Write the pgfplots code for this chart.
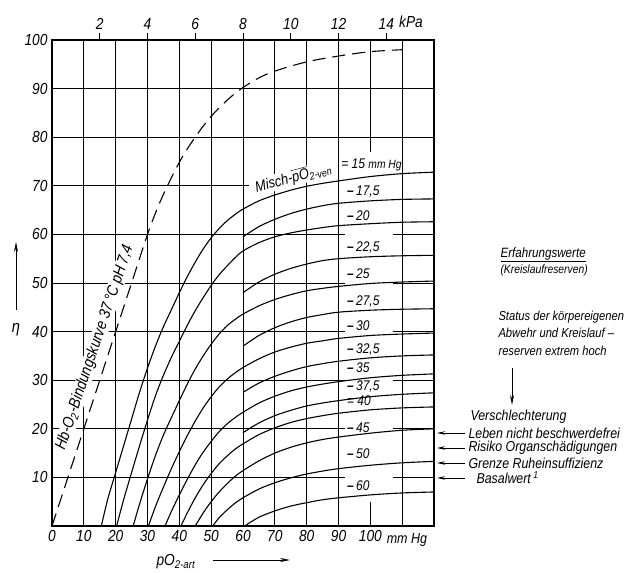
\documentclass[border=0pt]{standalone}
\usepackage{fontspec}
\setmainfont{Liberation Sans}[FakeStretch=0.86]
\usepackage{pgfplots}
\pgfplotsset{compat=1.18}
\usetikzlibrary{arrows.meta}
\newcommand{\lbl}{\fontsize{14}{16}\selectfont\itshape}
\newcommand{\tkl}{\fontsize{16}{18}\selectfont\itshape}
\begin{document}
\begin{tikzpicture}[font=\itshape]
\useasboundingbox (0,0) rectangle (628pt,572pt);
\begin{axis}[
  at={(52pt,46pt)}, anchor=south west, scale only axis,
  width=382pt, height=486pt,
  xmin=0, xmax=120, ymin=0, ymax=100,
  clip=false,
  axis line style={line width=1.2pt},
  xtick={0,10,...,100}, ytick={10,20,...,100},
  major tick length=0pt,
  tick label style={font=\tkl},
  /pgf/number format/assume math mode=true,
  xticklabel style={yshift=-1pt},
  yticklabel style={xshift=-1pt},
]
% grid
\draw[line width=0.9pt] (axis cs:10,0) -- (axis cs:10,100);
\draw[line width=0.9pt] (axis cs:20,0) -- (axis cs:20,100);
\draw[line width=0.9pt] (axis cs:30,0) -- (axis cs:30,100);
\draw[line width=0.9pt] (axis cs:40,0) -- (axis cs:40,100);
\draw[line width=0.9pt] (axis cs:50,0) -- (axis cs:50,100);
\draw[line width=0.9pt] (axis cs:60,0) -- (axis cs:60,100);
\draw[line width=0.9pt] (axis cs:70,0) -- (axis cs:70,100);
\draw[line width=0.9pt] (axis cs:80,0) -- (axis cs:80,100);
\draw[line width=0.9pt] (axis cs:90,0) -- (axis cs:90,100);
\draw[line width=0.9pt] (axis cs:100,0) -- (axis cs:100,5);
\draw[line width=0.9pt] (axis cs:100,77) -- (axis cs:100,100);
\draw[line width=0.9pt] (axis cs:110,0) -- (axis cs:110,100);
\draw[line width=0.9pt] (axis cs:0,10) -- (axis cs:92,10) (axis cs:107,10) -- (axis cs:120,10);
\draw[line width=0.9pt] (axis cs:0,20) -- (axis cs:92,20) (axis cs:107,20) -- (axis cs:120,20);
\draw[line width=0.9pt] (axis cs:0,30) -- (axis cs:92,30) (axis cs:107,30) -- (axis cs:120,30);
\draw[line width=0.9pt] (axis cs:0,40) -- (axis cs:92,40) (axis cs:107,40) -- (axis cs:120,40);
\draw[line width=0.9pt] (axis cs:0,50) -- (axis cs:92,50) (axis cs:107,50) -- (axis cs:120,50);
\draw[line width=0.9pt] (axis cs:0,60) -- (axis cs:92,60) (axis cs:107,60) -- (axis cs:120,60);
\draw[line width=0.9pt] (axis cs:0,70) -- (axis cs:62,70);
\draw[line width=0.9pt] (axis cs:0,80) -- (axis cs:120,80);
\draw[line width=0.9pt] (axis cs:0,90) -- (axis cs:120,90);

% labels with white background
\node[rotate=71.5, anchor=south, fill=white, inner sep=0.5pt, font=\fontsize{16}{18}\selectfont\itshape]
  at (axis cs:15.9,36.2) {Hb-O\textsubscript{2}-Bindungskurve 37\,°C pH\,7,4};
\node[rotate=15, anchor=south, fill=white, inner sep=0.5pt, font=\fontsize{15}{17}\selectfont\itshape]
  at (axis cs:76.5,70.0) {Misch-$\overline{\mbox{pO}}$\textsubscript{2-ven}};
\node[anchor=west, font=\lbl, inner sep=1pt] at (axis cs:90.5,74.3) {= 15 {\fontsize{12}{13}\selectfont mm Hg}};
\node[anchor=west, font=\lbl, inner sep=1pt] at (axis cs:92.3,68.9) {\textbf{–}\,17,5};
\node[anchor=west, font=\lbl, inner sep=1pt] at (axis cs:92.3,63.8) {\textbf{–}\,20};
\node[anchor=west, font=\lbl, inner sep=1pt] at (axis cs:92.3,57.2) {\textbf{–}\,22,5};
\node[anchor=west, font=\lbl, inner sep=1pt] at (axis cs:92.3,51.9) {\textbf{–}\,25};
\node[anchor=west, font=\lbl, inner sep=1pt] at (axis cs:92.3,46.1) {\textbf{–}\,27,5};
\node[anchor=west, font=\lbl, inner sep=1pt] at (axis cs:92.3,41.2) {\textbf{–}\,30};
\node[anchor=west, font=\lbl, inner sep=1pt] at (axis cs:92.3,36.4) {\textbf{–}\,32,5};
\node[anchor=west, font=\lbl, inner sep=1pt] at (axis cs:92.3,32.5) {\textbf{–}\,35};
\node[anchor=west, font=\lbl, inner sep=1pt] at (axis cs:92.3,28.8) {\textbf{–}\,37,5};
\node[anchor=west, font=\lbl, inner sep=1pt] at (axis cs:92.3,25.8) {= 40};
\node[anchor=west, font=\lbl, inner sep=1pt] at (axis cs:92.3,20.2) {\textbf{–}\,45};
\node[anchor=west, font=\lbl, inner sep=1pt] at (axis cs:92.3,14.8) {\textbf{–}\,50};
\node[anchor=west, font=\lbl, inner sep=1pt] at (axis cs:92.3,8.2) {\textbf{–}\,60};
\node[anchor=north, font=\fontsize{14.5}{16}\selectfont\itshape] at (axis cs:111.5,0) [yshift=-4pt] {mm Hg};

% Hb-O2 binding curve
\addplot[black, line width=1.1pt, smooth, dash pattern=on 13pt off 7pt] coordinates {
(0,0) (5,10) (10,20) (15,30) (20,40) (25,50) (30,60) (33.5,66) (37,71) (41,76) (45.5,80.5)
(50,84.3) (55,87.6) (59.5,90) (65,92.2) (70,93.6) (80,95.5) (90,96.7) (100,97.6) (110,98)};

% full curves
\addplot[black, line width=1.1pt, smooth] coordinates {
(15.5,0) (17.5,5.5) (20,11) (22.5,16.5) (25,22) (27.5,27.5) (30,32.5) (32.5,37) (35,41) (37.5,44.5)
(40,48) (42.5,51.3) (45,54.3) (47.5,57) (50,59.3) (52.5,61.2) (55,62.8) (57.5,64.1) (60,65.2)
(65,66.9) (70,68.1) (75,69.1) (80,69.9) (85,70.5) (90,71) (100,71.9) (110,72.5) (120,72.8)};
\addplot[black, line width=1.1pt, smooth] coordinates {
(20.3,0) (22.5,5.4) (25,11) (27.5,16.5) (30,21.8) (32.5,26.8) (35,31) (37.5,34.7) (40,38) (42.5,41.3)
(45,44.3) (47.5,47) (50,49.5) (52.5,51.7) (55,53.5) (57.5,55.2) (60,56.6) (65,58.3) (70,59.5)
(75,60.3) (80,60.9) (85,61.4) (90,61.8) (100,62.2) (110,62.5) (120,62.6)};
\addplot[black, line width=1.1pt, smooth] coordinates {
(25.5,0) (27.5,4.5) (30,9.7) (32.5,14.5) (35,18.7) (37.5,22.3) (40,25.8) (42.5,29.2) (45,32.3)
(47.5,35) (50,37.4) (52.5,39.5) (55,41.2) (57.5,42.5) (60,43.6) (65,45.3) (70,46.6) (75,47.6)
(80,48.4) (85,48.9) (90,49.3) (100,49.9) (110,50.2) (120,50.4)};
\addplot[black, line width=1.1pt, smooth] coordinates {
(30.3,0) (32.5,4) (35,8) (37.5,11.8) (40,15.3) (42.5,18.6) (45,21.6) (47.5,24.3) (50,26.6)
(52.5,28.6) (55,30.2) (57.5,31.5) (60,32.6) (65,34.4) (70,35.8) (75,36.8) (80,37.6) (85,38.1)
(90,38.6) (100,39.2) (110,39.5) (120,39.7)};
\addplot[black, line width=1.1pt, smooth] coordinates {
(35.5,0) (37.5,3) (40,6.4) (42.5,9.6) (45,12.6) (47.5,15.2) (50,17.4) (52.5,19.4) (55,21)
(57.5,22.3) (60,23.4) (65,25.3) (70,26.7) (75,27.8) (80,28.6) (85,29.2) (90,29.7) (100,30.5)
(110,31) (120,31.3)};
\addplot[black, line width=1.1pt, smooth] coordinates {
(40.5,0) (42.5,2.7) (45,5.8) (47.5,8.5) (50,10.8) (52.5,12.8) (55,14.4) (57.5,15.8) (60,16.9)
(65,18.8) (70,20.2) (75,21.3) (80,22.1) (85,22.7) (90,23.2) (100,23.9) (110,24.3) (120,24.5)};
\addplot[black, line width=1.1pt, smooth] coordinates {
(45,0) (47.5,2.7) (50,5) (52.5,7) (55,8.7) (57.5,10.2) (60,11.4) (65,13.4) (70,15) (75,16.2)
(80,17.1) (85,17.8) (90,18.3) (100,19.1) (110,19.7) (120,20)};
\addplot[black, line width=1.1pt, smooth] coordinates {
(50.5,0) (52.5,1.7) (55,3.3) (57.5,4.7) (60,5.8) (65,7.6) (70,8.9) (75,9.9) (80,10.7) (85,11.3)
(90,11.8) (100,12.5) (110,13) (120,13.3)};
\addplot[black, line width=1.1pt, smooth] coordinates {
(60.5,0) (65,1.8) (70,3.1) (75,4.1) (80,4.8) (85,5.4) (90,5.8) (100,6.4) (110,6.8) (120,7)};

% partial curves (from 60 mm Hg)
\addplot[black, line width=1.1pt, smooth] coordinates {
(60,59.5) (65,61.6) (70,63.1) (75,64.3) (80,65.2) (85,65.9) (90,66.4) (100,66.9) (110,67.2) (120,67.3)};
\addplot[black, line width=1.1pt, smooth] coordinates {
(60,48) (65,50.2) (70,51.8) (75,53) (80,53.9) (85,54.6) (90,55) (100,55.4) (110,55.6) (120,55.7)};
\addplot[black, line width=1.1pt, smooth] coordinates {
(60,37) (65,39.2) (70,40.8) (75,42) (80,42.9) (85,43.5) (90,44) (100,44.4) (110,44.6) (120,44.7)};
\addplot[black, line width=1.1pt, smooth] coordinates {
(60,27.5) (65,29.4) (70,30.8) (75,31.9) (80,32.8) (85,33.4) (90,33.9) (100,34.6) (110,35) (120,35.2)};
\addplot[black, line width=1.1pt, smooth] coordinates {
(60,19.2) (65,21.2) (70,22.7) (75,23.8) (80,24.7) (85,25.3) (90,25.8) (100,26.6) (110,27.1) (120,27.4)};
\end{axis}

% kPa scale on top
\begin{axis}[
  at={(52pt,46pt)}, anchor=south west, scale only axis,
  width=382pt, height=486pt,
  xmin=0, xmax=16, ymin=0, ymax=1,
  axis x line*=top, axis y line=none,
  axis line style={line width=1.2pt},
  xtick={2,4,...,14}, tick align=outside, major tick length=7pt,
  xtick style={line width=1pt, black},
  tick label style={font=\tkl},
  /pgf/number format/assume math mode=true,
]
\end{axis}
\node[font=\tkl] at (411pt,550pt) {kPa};

% axis titles
\node[font=\fontsize{17}{19}\selectfont\itshape] at (16pt,242pt) {η};
\draw[-{Stealth[length=10pt,width=4pt]}, line width=0.9pt] (16pt,262pt) -- (16pt,330pt);
\node[anchor=base west, font=\fontsize{16}{18}\selectfont\itshape] at (153pt,6pt) {pO\textsubscript{2-art}};
\draw[-{Stealth[length=10pt,width=4pt]}, line width=0.9pt] (213pt,12pt) -- (290pt,12pt);

% right annotations
\node[anchor=west, font=\fontsize{13.5}{15}\selectfont\itshape] at (497pt,317pt) {\underline{Erfahrungswerte}};
\node[anchor=west, font=\fontsize{12}{14}\selectfont\itshape] at (497pt,302pt) {(Kreislaufreserven)};
\node[anchor=west, align=left, font=\fontsize{13}{17.5}\selectfont\itshape] at (495pt,239pt)
  {Status der körpereigenen\\Abwehr und Kreislauf –\\reserven extrem hoch};
\draw[-{Stealth[length=10pt,width=4pt]}, line width=0.9pt] (512pt,204pt) -- (512pt,167pt);
\begin{scope}[every node/.style={anchor=west, font=\fontsize{14.4}{16}\selectfont\itshape}]
\node at (467pt,155pt) {Verschlechterung};
\node at (465pt,139pt) {Leben nicht beschwerdefrei};
\node at (465pt,124pt) {Risiko Organschädigungen};
\node at (465pt,109pt) {Grenze Ruheinsuffizienz};
\node at (473pt,94pt) {Basalwert\,\textsuperscript{1}};
\end{scope}
\draw[-{Stealth[length=8pt,width=3.5pt]}, line width=0.9pt] (465pt,139pt) -- (437pt,139pt);
\draw[-{Stealth[length=8pt,width=3.5pt]}, line width=0.9pt] (465pt,124pt) -- (437pt,124pt);
\draw[-{Stealth[length=8pt,width=3.5pt]}, line width=0.9pt] (465pt,109pt) -- (437pt,109pt);
\draw[-{Stealth[length=8pt,width=3.5pt]}, line width=0.9pt] (465pt,94pt) -- (437pt,94pt);
\end{tikzpicture}
\end{document}
